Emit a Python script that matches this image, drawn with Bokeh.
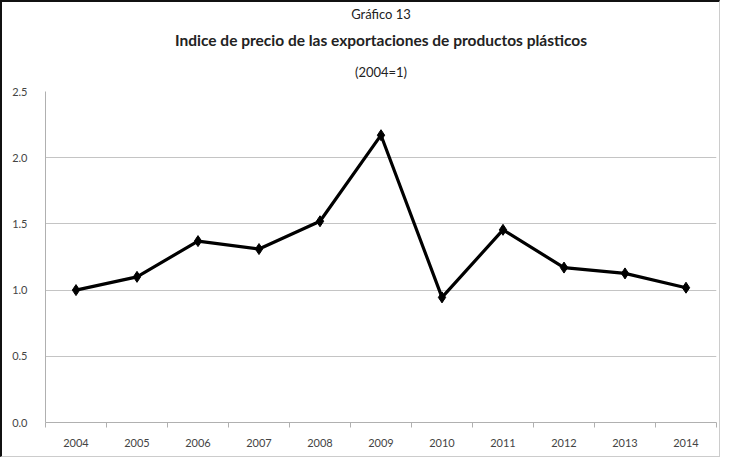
from bokeh.plotting import figure
from bokeh.layouts import column
from bokeh.models import Title, FixedTicker, Range1d, NumeralTickFormatter, InlineStyleSheet
from bokeh.embed import file_html
from bokeh.resources import INLINE

years = [2004, 2005, 2006, 2007, 2008, 2009, 2010, 2011, 2012, 2013, 2014]
values = [1.00, 1.10, 1.37, 1.31, 1.52, 2.17, 0.945, 1.455, 1.17, 1.126, 1.018]
y_ticks = [0.0, 0.5, 1.0, 1.5, 2.0, 2.5]

title_top = "Gráfico 13"
title_main = "Indice de precio de las exportaciones de productos plásticos"
title_sub = "(2004=1)"

FONT = "Lato"

p = figure(width=717, height=454, output_backend="svg", toolbar_location=None,
           x_range=Range1d(years[0] - 0.5, years[-1] + 0.5),
           y_range=Range1d(0, 2.5), title=None,
           min_border_left=43, min_border_right=3, min_border_bottom=34, min_border_top=0)

title_specs = [
    (title_sub, "13px", "normal", 19, "top"),
    (title_main, "15.5px", "bold", 11, "bottom"),
    (title_top, "13px", "normal", 3, "bottom"),
]
for txt, size, style, so, va in title_specs:
    t = Title(text=txt, text_font=FONT, text_font_size=size, text_font_style=style,
              align="center", vertical_align=va, text_color="#222222", standoff=so)
    p.add_layout(t, "above")

p.outline_line_color = None
p.background_fill_color = "white"
p.border_fill_color = "white"

p.xgrid.grid_line_color = None
p.ygrid.grid_line_color = "#c4c4c4"
p.ygrid.grid_line_width = 1

p.yaxis.ticker = FixedTicker(ticks=y_ticks)
p.yaxis.formatter = NumeralTickFormatter(format="0.0")
p.yaxis.axis_line_color = "#b0b0b0"
p.yaxis.major_tick_line_color = None
p.yaxis.minor_tick_line_color = None
p.yaxis.major_label_text_font = FONT
p.yaxis.major_label_text_font_size = "11px"
p.yaxis.major_label_text_color = "#444444"
p.yaxis.major_label_standoff = 12

p.xaxis.ticker = FixedTicker(ticks=years, minor_ticks=[y - 0.5 for y in years] + [years[-1] + 0.5])
p.xaxis.major_label_overrides = {y: str(y) for y in years}
p.xaxis.axis_line_color = "#b0b0b0"
p.xaxis.major_tick_line_color = None
p.xaxis.minor_tick_line_color = "#b0b0b0"
p.xaxis.minor_tick_in = 0
p.xaxis.minor_tick_out = 5
p.xaxis.major_label_text_font = FONT
p.xaxis.major_label_text_font_size = "11px"
p.xaxis.major_label_text_color = "#444444"
p.xaxis.major_label_standoff = 10

p.line(years, values, line_color="black", line_width=3.2)
p.scatter(years, values, marker="diamond", size=11, fill_color="black", line_color="black")

layout = column(p, stylesheets=[InlineStyleSheet(css=":host { border-top: 2px solid #111111; border-left: 2px solid #111111; "
                                                     "border-right: 1px solid #cccccc; border-bottom: 1px solid #cccccc; }")])

open("out.html", "w").write(file_html(layout, INLINE))
